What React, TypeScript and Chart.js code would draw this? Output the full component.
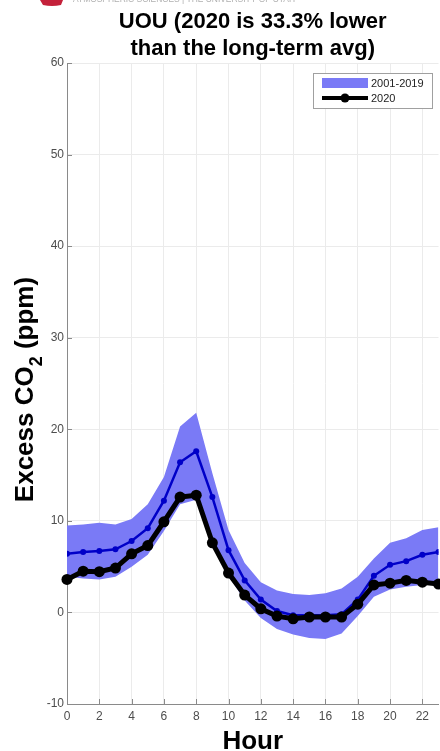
import React, { useEffect, useRef } from "react";
import { Chart, registerables } from "chart.js";

Chart.register(...registerables);

// ---------- data ----------
const hours = [0, 1, 2, 3, 4, 5, 6, 7, 8, 9, 10, 11, 12, 13, 14, 15, 16, 17, 18, 19, 20, 21, 22, 23];
const upper2001_2019 = [9.5, 9.6, 9.8, 9.6, 10.2, 11.8, 14.8, 20.3, 21.8, 15.2, 9.0, 5.4, 3.3, 2.4, 2.0, 1.9, 2.1, 2.6, 3.9, 5.9, 7.6, 8.1, 9.0, 9.3];
const lower2001_2019 = [3.9, 3.7, 3.6, 3.9, 5.0, 6.3, 8.9, 11.8, 12.3, 7.6, 4.0, 1.3, -0.6, -1.8, -2.4, -2.8, -2.9, -2.3, -0.4, 1.7, 2.5, 2.8, 3.0, 3.1];
const mean2001_2019 = [6.4, 6.6, 6.7, 6.9, 7.8, 9.2, 12.2, 16.4, 17.6, 12.6, 6.8, 3.5, 1.4, 0.15, -0.3, -0.3, -0.3, -0.2, 1.4, 4.0, 5.2, 5.6, 6.3, 6.6];
const values2020 = [3.6, 4.5, 4.45, 4.85, 6.4, 7.3, 9.9, 12.6, 12.8, 7.6, 4.3, 1.9, 0.4, -0.4, -0.7, -0.5, -0.5, -0.5, 0.9, 3.0, 3.2, 3.5, 3.3, 3.1];

const xMin = 0;
const xMax = 23;
const xStep = 2;
const yMin = -10;
const yMax = 60;
const yStep = 10;

const titleLines = ["UOU (2020 is 33.3% lower", "than the long-term avg)"];
const xTitle = "Hour";
const yTitleParts = ["Excess CO", "2", " (ppm)"];
const legendLabels = ["2001-2019", "2020"];
const logoText = "ATMOSPHERIC SCIENCES | THE UNIVERSITY OF UTAH";

// ---------- style ----------
const W = 444;
const H = 751;
const FONT = "'Liberation Sans', Arial, Helvetica, sans-serif";
const BAND = "rgb(122,122,246)";
const MEAN = "#0000c8";
const TICK_COLOR = "#4d4d4d";
const AXIS_COLOR = "#8a8a8a";
const GRID_COLOR = "#ebebeb";

const toXY = (ys: number[]) => hours.map((h, i) => ({ x: h, y: ys[i] }));

const decorPlugin = {
  id: "decor",
  afterDraw(chart: any) {
    const ctx: CanvasRenderingContext2D = chart.ctx;
    const area = chart.chartArea;
    const xs = chart.scales.x;
    const ys = chart.scales.y;
    ctx.save();

    // inward tick marks
    ctx.strokeStyle = AXIS_COLOR;
    ctx.lineWidth = 1;
    ctx.beginPath();
    ys.ticks.forEach((t: any) => {
      const y = Math.round(ys.getPixelForValue(t.value)) + 0.5;
      ctx.moveTo(area.left, y);
      ctx.lineTo(area.left + 5, y);
    });
    xs.ticks.forEach((t: any) => {
      const x = Math.round(xs.getPixelForValue(t.value)) + 0.5;
      ctx.moveTo(x, area.bottom);
      ctx.lineTo(x, area.bottom - 5);
    });
    ctx.stroke();

    const cx = (area.left + area.right) / 2;

    // title
    ctx.fillStyle = "#000";
    ctx.textAlign = "center";
    ctx.textBaseline = "alphabetic";
    ctx.font = `bold 22px ${FONT}`;
    ctx.fillText(titleLines[0], cx, 28);
    ctx.fillText(titleLines[1], cx, 55);

    // x title
    ctx.font = `bold 26px ${FONT}`;
    ctx.fillText(xTitle, cx, 749);

    // y title with subscript
    ctx.save();
    ctx.translate(33, (area.top + area.bottom) / 2 + 6);
    ctx.rotate(-Math.PI / 2);
    ctx.textAlign = "left";
    ctx.font = `bold 26px ${FONT}`;
    const w1 = ctx.measureText(yTitleParts[0]).width;
    const w3 = ctx.measureText(yTitleParts[2]).width;
    ctx.font = `bold 18px ${FONT}`;
    const w2 = ctx.measureText(yTitleParts[1]).width;
    let px = -(w1 + w2 + w3) / 2;
    ctx.font = `bold 26px ${FONT}`;
    ctx.fillText(yTitleParts[0], px, 0);
    px += w1;
    ctx.font = `bold 18px ${FONT}`;
    ctx.fillText(yTitleParts[1], px, 9);
    px += w2;
    ctx.font = `bold 26px ${FONT}`;
    ctx.fillText(yTitleParts[2], px, 0);
    ctx.restore();

    // legend
    ctx.fillStyle = "#fff";
    ctx.fillRect(313, 73, 120, 35);
    ctx.strokeStyle = "#a0a0a0";
    ctx.lineWidth = 1;
    ctx.strokeRect(313.5, 73.5, 119, 35);
    ctx.fillStyle = BAND;
    ctx.fillRect(322, 78, 46, 10);
    ctx.strokeStyle = "#000";
    ctx.lineWidth = 4;
    ctx.beginPath();
    ctx.moveTo(322, 98);
    ctx.lineTo(368, 98);
    ctx.stroke();
    ctx.fillStyle = "#000";
    ctx.beginPath();
    ctx.arc(345, 98, 4.5, 0, Math.PI * 2);
    ctx.fill();
    ctx.fillStyle = "#222";
    ctx.font = `11px ${FONT}`;
    ctx.textAlign = "left";
    ctx.textBaseline = "middle";
    ctx.fillText(legendLabels[0], 371, 83.5);
    ctx.fillText(legendLabels[1], 371, 98.5);

    // cropped logo at top
    ctx.fillStyle = "#c4213a";
    ctx.beginPath();
    ctx.moveTo(40, 0);
    ctx.lineTo(63, 0);
    ctx.lineTo(61, 5);
    ctx.quadraticCurveTo(52, 7, 43, 5);
    ctx.closePath();
    ctx.fill();
    ctx.fillStyle = "#b0b0b0";
    ctx.font = `9px ${FONT}`;
    ctx.textBaseline = "alphabetic";
    ctx.fillText(logoText, 73, 2, 222);

    ctx.restore();
  },
};

export default function App() {
  const ref = useRef<HTMLCanvasElement | null>(null);

  useEffect(() => {
    if (!ref.current) return;
    const chart = new Chart(ref.current, {
      type: "line",
      data: {
        datasets: [
          {
            label: "upper",
            data: toXY(upper2001_2019),
            borderWidth: 0,
            borderColor: BAND,
            pointRadius: 0,
            fill: "+1",
            backgroundColor: BAND,
            order: 3,
          },
          {
            label: "lower",
            data: toXY(lower2001_2019),
            borderWidth: 0,
            borderColor: BAND,
            pointRadius: 0,
            fill: false,
            order: 3,
          },
          {
            label: legendLabels[0],
            data: toXY(mean2001_2019),
            borderColor: MEAN,
            backgroundColor: MEAN,
            borderWidth: 2.5,
            pointRadius: 3,
            pointBorderWidth: 0,
            pointBackgroundColor: MEAN,
            fill: false,
            order: 1,
          },
          {
            label: legendLabels[1],
            data: toXY(values2020),
            borderColor: "#000",
            backgroundColor: "#000",
            borderWidth: 5,
            pointRadius: 5.5,
            pointBorderWidth: 0,
            pointBackgroundColor: "#000",
            fill: false,
            order: 0,
            clip: false,
          } as any,
        ],
      },
      options: {
        responsive: false,
        animation: false,
        events: [],
        layout: { padding: { top: 63, right: W - 441, bottom: 0, left: 0 } },
        plugins: {
          legend: { display: false },
          tooltip: { enabled: false },
          title: { display: false },
        },
        scales: {
          x: {
            type: "linear",
            min: xMin,
            max: xMax,
            afterFit: (s: any) => {
              s.height = 47;
            },
            ticks: {
              stepSize: xStep,
              includeBounds: false,
              color: TICK_COLOR,
              font: { family: FONT, size: 12 },
              padding: 5,
              maxRotation: 0,
            },
            grid: { color: GRID_COLOR, drawTicks: false, lineWidth: 1 },
            border: { color: AXIS_COLOR, width: 1 },
          },
          y: {
            type: "linear",
            min: yMin,
            max: yMax,
            afterFit: (s: any) => {
              s.width = 67;
            },
            ticks: {
              stepSize: yStep,
              color: TICK_COLOR,
              font: { family: FONT, size: 12 },
              padding: 3,
            },
            grid: { color: GRID_COLOR, drawTicks: false, lineWidth: 1 },
            border: { color: AXIS_COLOR, width: 1 },
          },
        },
      } as any,
      plugins: [decorPlugin],
    });
    return () => chart.destroy();
  }, []);

  return (
    <div
      style={{
        position: "fixed",
        left: 0,
        top: 0,
        width: 440,
        height: 751,
        overflow: "hidden",
        background: "#fff",
      }}
    >
      <canvas ref={ref} width={W} height={H} style={{ display: "block", width: W, height: H }} />
    </div>
  );
}
